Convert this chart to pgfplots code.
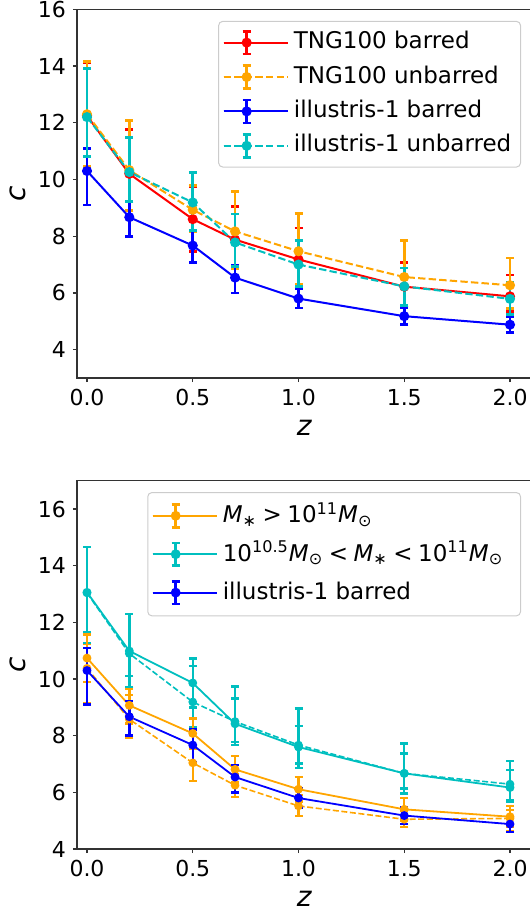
\documentclass[border=0pt]{standalone}
\usepackage{pgfplots}
\pgfplotsset{compat=1.18}
\usepackage{pgfplotstable}
\usepackage{fontspec}
\setmainfont{DejaVu Sans}
\definecolor{mred}{RGB}{255,0,0}
\definecolor{morange}{RGB}{255,165,0}
\definecolor{mblue}{RGB}{0,0,255}
\definecolor{mcyan}{RGB}{0,191,191}

% top panel
\pgfplotstableread{
z c ep em
0 12.25 1.87 1.85
0.2 10.20 1.55 1.50
0.5 8.60 1.15 1.13
0.7 7.88 1.17 0.94
1.0 7.18 1.11 0.95
1.5 6.22 0.86 0.68
2.0 5.88 0.75 0.53
}\tngbar
\pgfplotstableread{
z c ep em
0 12.30 1.85 1.85
0.2 10.33 1.75 1.42
0.5 8.93 0.85 0.78
0.7 8.17 1.41 1.32
1.0 7.47 1.32 1.18
1.5 6.56 1.29 1.00
2.0 6.27 0.96 0.83
}\tngunbar
\pgfplotstableread{
z c ep em
0 10.30 0.80 1.20
0.2 8.67 0.56 0.67
0.5 7.67 0.55 0.60
0.7 6.54 0.42 0.54
1.0 5.80 0.35 0.33
1.5 5.18 0.29 0.30
2.0 4.88 0.27 0.27
}\illbar
\pgfplotstableread{
z c ep em
0 12.20 1.70 1.40
0.2 10.26 1.23 1.03
0.5 9.19 1.06 0.99
0.7 7.78 1.00 0.84
1.0 7.00 0.85 0.77
1.5 6.23 0.65 0.67
2.0 5.79 0.58 0.55
}\illunbar
% bottom panel
\pgfplotstableread{
z c ep em
0 10.74 0.83 0.84
0.2 9.07 0.59 0.64
0.5 8.08 0.52 0.53
0.7 6.81 0.47 0.46
1.0 6.11 0.44 0.44
1.5 5.40 0.39 0.40
2.0 5.14 0.38 0.36
}\highsolid
\pgfplotstableread{
z c ep em
0 10.38 0.87 1.23
0.2 8.58 0.85 0.64
0.5 7.04 0.57 0.63
0.7 6.25 0.40 0.41
1.0 5.52 0.38 0.35
1.5 5.05 0.30 0.27
2.0 5.08 0.30 0.45
}\highdash
\pgfplotstableread{
z c ep em
0 13.06 1.59 1.40
0.2 10.99 1.31 1.27
0.5 9.86 0.86 0.86
0.7 8.42 0.89 0.75
1.0 7.60 0.75 0.75
1.5 6.67 0.70 0.71
2.0 6.17 0.61 0.50
}\midsolid
\pgfplotstableread{
z c ep em
0 13.04 1.61 1.77
0.2 10.90 1.40 0.80
0.5 9.19 1.26 0.89
0.7 8.50 1.24 0.72
1.0 7.67 1.29 0.65
1.5 6.67 1.06 0.53
2.0 6.29 0.81 0.56
}\middash

\newcommand{\rel}[1]{\hspace{0.24em}#1\hspace{0.24em}}
\pgfplotsset{
  panel/.style={
    scale only axis,
    width=227.5pt,
    xmin=-0.0473, xmax=2.104,
    xtick={0,0.5,1,1.5,2},
    ytick={4,6,8,10,12,14,16},
    tick pos=left,
    tick align=outside,
    major tick length=2pt,
    tick style={black!80, line width=0.6pt},
    axis line style={black!80, line width=0.6pt},
    /pgf/number format/assume math mode=true,
    tick label style={font=\fontsize{11}{13}\selectfont},
    xticklabel style={/pgf/number format/.cd, fixed, fixed zerofill, precision=1},
    yticklabel style={/pgf/number format/.cd, fixed, precision=0},
    every axis x label/.style={at={(axis description cs:0.5,0)}, anchor=center, yshift=-25pt},
    every axis y label/.style={at={(axis description cs:-0.1297,0.5)}, anchor=center, rotate=90},
    label style={font=\fontsize{14}{16}\selectfont},
    xlabel={\textit{z}},
    ylabel={\textit{c}},
    error bars/y dir=both,
    error bars/y explicit,
    legend cell align=left,
    legend style={
      font=\fontsize{11.5}{13.5}\selectfont,
      draw=black!20, fill=white, rounded corners=2pt, line width=0.5pt,
      at={(axis description cs:1,1)}, anchor=north east,
      inner xsep=2pt, inner ysep=2pt,
      row sep=0pt,
      nodes={inner sep=2.6pt, text height=9pt, text depth=3pt},
    },
    legend image code/.code={
      \path (0pt,0pt) -- (32pt,0pt);
      \draw[##1] (0pt,0pt) -- (23pt,0pt);
      \draw[##1, solid, line width=1.3pt] (11.5pt,-5.7pt) -- (11.5pt,5.7pt);
      \draw[##1, solid, line width=1.3pt] (9.5pt,-5.7pt) -- (13.5pt,-5.7pt) (9.5pt,5.7pt) -- (13.5pt,5.7pt);
      \fill[##1, solid] (11.5pt,0pt) circle (2pt);
    },
  },
  tsolid/.style={line width=1pt},
  tdash/.style={line width=1pt, dash pattern=on 3.7pt off 1.6pt},
}

\begin{document}
\begin{tikzpicture}
\begin{axis}[panel,
  name=top,
  at={(38.5pt,-4.65pt)}, anchor=north west,
  height=184.35pt,
  ymin=3, ymax=16,
  legend style={xshift=-5.5pt, yshift=-5.8pt},
  error bars/error bar style={solid, line width=1.4pt},
  error bars/error mark options={solid, rotate=90, mark size=2pt, line width=1.4pt},
]
\addplot[tsolid, color=mred, mark=*, mark size=2pt] table[x=z, y=c, y error plus=ep, y error minus=em] {\tngbar};
\addlegendentry{TNG100 barred}
\addplot[tdash, color=morange, mark=*, mark size=2pt, mark options={solid}] table[x=z, y=c, y error plus=ep, y error minus=em] {\tngunbar};
\addlegendentry{TNG100 unbarred}
\addplot[tsolid, color=mblue, mark=*, mark size=2pt] table[x=z, y=c, y error plus=ep, y error minus=em] {\illbar};
\addlegendentry{illustris-1 barred}
\addplot[tdash, color=mcyan, mark=*, mark size=2pt, mark options={solid}] table[x=z, y=c, y error plus=ep, y error minus=em] {\illunbar};
\addlegendentry{illustris-1 unbarred}
\end{axis}

\begin{axis}[panel,
  name=bottom,
  at={(38.5pt,-240.35pt)}, anchor=north west,
  height=184.15pt,
  ymin=4, ymax=17,
  legend style={xshift=-5.5pt, yshift=-5.7pt, nodes={inner sep=2.6pt, text height=10.5pt, text depth=3.5pt}},
  error bars/error bar style={solid, line width=1.2pt},
  error bars/error mark options={solid, rotate=90, mark size=2pt, line width=1.2pt},
]
\addplot[line width=0.8pt, dash pattern=on 3pt off 1.3pt, color=morange, mark=*, mark size=1.75pt, mark options={solid}, forget plot] table[x=z, y=c, y error plus=ep, y error minus=em] {\highdash};
\addplot[line width=0.8pt, dash pattern=on 3pt off 1.3pt, color=mcyan, mark=*, mark size=1.75pt, mark options={solid}, forget plot] table[x=z, y=c, y error plus=ep, y error minus=em] {\middash};
\addplot[line width=0.9pt, color=morange, mark=*, mark size=1.75pt] table[x=z, y=c, y error plus=ep, y error minus=em] {\highsolid};
\addlegendentry{\textit{M}\textsubscript{∗}\rel{>}10\textsuperscript{11}\textit{M}\textsubscript{⊙}}
\addplot[line width=0.9pt, color=mcyan, mark=*, mark size=1.75pt] table[x=z, y=c, y error plus=ep, y error minus=em] {\midsolid};
\addlegendentry{10\textsuperscript{10.5}\textit{M}\textsubscript{⊙}\rel{<}\textit{M}\textsubscript{∗}\rel{<}10\textsuperscript{11}\textit{M}\textsubscript{⊙}\hspace*{4pt}}
\addplot[line width=0.9pt, color=mblue, mark=*, mark size=1.75pt] table[x=z, y=c, y error plus=ep, y error minus=em] {\illbar};
\addlegendentry{illustris-1 barred}
\end{axis}
\pgfresetboundingbox
\path (0pt,0pt) rectangle (265pt,-455.5pt);
\end{tikzpicture}
\end{document}
